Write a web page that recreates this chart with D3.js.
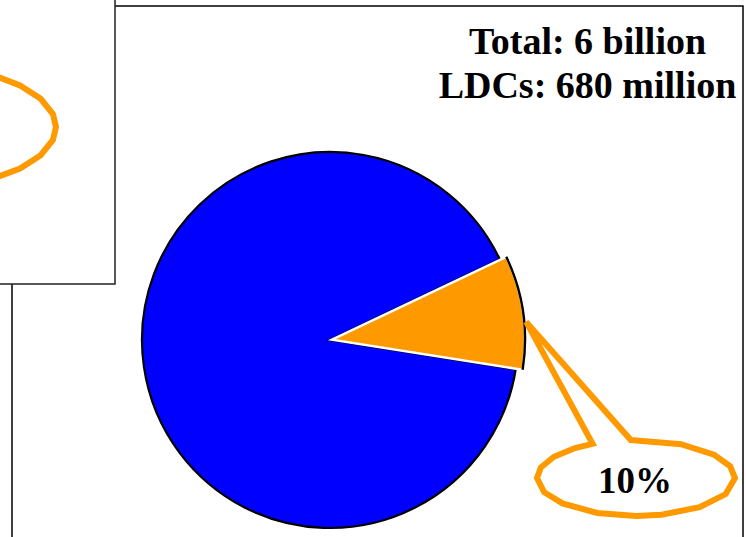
<!DOCTYPE html>
<html>
<head>
<meta charset="utf-8">
<script src="https://cdn.jsdelivr.net/npm/d3@7"></script>
<style>
  html, body { margin: 0; padding: 0; background: #fff; overflow: hidden; }
  svg { display: block; }
</style>
</head>
<body>
<svg id="chart" width="746" height="537"></svg>
<script>
// ---- data ----
const categories = ["Rest of world", "LDCs"];
const shares = [90.45, 9.55];           // percent of world population (as drawn)
const colors = ["#0000FF", "#FF9900"];
const infoLines = ["Total: 6 billion", "LDCs: 680 million"];
const calloutText = "10%";

// ---- layout ----
const W = 746, H = 537;
const svg = d3.select("#chart");
const cx = 330, cy = 340, R = 188;
const explode = 2, Rslice = 193;
const startDeg = 98.95;

// main frame
svg.append("rect")
  .attr("x", 12).attr("y", 6).attr("width", 731).attr("height", 620)
  .attr("fill", "#fff").attr("stroke", "#000").attr("stroke-width", 1.5);

const pie = d3.pie().sort(null)
  .startAngle(startDeg * Math.PI / 180)
  .endAngle(startDeg * Math.PI / 180 + 2 * Math.PI);
const arcs = pie(shares);

const g = svg.append("g").attr("transform", `translate(${cx},${cy})`);

// blue (main) slice
const arcMain = d3.arc().innerRadius(0).outerRadius(R);
g.append("path")
  .attr("d", arcMain(arcs[0]))
  .attr("fill", colors[0])
  .attr("stroke", "#000").attr("stroke-width", 2.2);

// exploded LDC slice
const a1 = arcs[1];
const mid = (a1.startAngle + a1.endAngle) / 2;
const ox = Math.sin(mid) * explode, oy = -Math.cos(mid) * explode;
const gs = g.append("g").attr("transform", `translate(${ox},${oy})`);
const arcSlice = d3.arc().innerRadius(0).outerRadius(Rslice);
gs.append("path")
  .attr("d", arcSlice(a1))
  .attr("fill", colors[1])
  .attr("stroke", "#fff").attr("stroke-width", 2.5)
  .attr("stroke-linejoin", "miter");
const rimPath = d3.path();
rimPath.arc(0, 0, Rslice, a1.startAngle - Math.PI / 2, a1.endAngle - Math.PI / 2);
gs.append("path")
  .attr("d", rimPath.toString())
  .attr("fill", "none")
  .attr("stroke", "#000").attr("stroke-width", 2.4);

// info text
const info = svg.append("g")
  .attr("font-family", "'Liberation Serif', 'Times New Roman', serif")
  .attr("font-weight", "bold").attr("font-size", 38)
  .attr("text-anchor", "middle").attr("fill", "#000");
infoLines.forEach((t, i) => {
  info.append("text").attr("x", 587.5).attr("y", 54 + i * 44).text(t);
});

// callout bubble (polygonal ellipse with tail to slice)
function bubble(ecx, ecy, rx, ry, angles, tip, baseL, baseR) {
  const pts = [];
  const P = t => [ecx + rx * Math.cos(t * Math.PI / 180), ecy + ry * Math.sin(t * Math.PI / 180)];
  if (tip) pts.push(P(baseR));
  angles.forEach(t => pts.push(P(t)));
  if (tip) { pts.push(P(baseL)); pts.push(tip); }
  return pts;
}
const tipAng = mid + 3 * Math.PI / 180;
const tip = [cx + ox + Math.sin(tipAng) * (Rslice + 2), cy + oy - Math.cos(tipAng) * (Rslice + 2)];
const calloutPts = bubble(636, 478, 99, 38,
  [-63, -38, -18, 0, 25, 50, 75, 90, 113, 138, 158, 180, 196, 214, 232],
  tip, 244, -93);
svg.append("path")
  .attr("d", d3.line()(calloutPts) + "Z")
  .attr("fill", "none")
  .attr("stroke", colors[1]).attr("stroke-width", 6)
  .attr("stroke-linejoin", "miter");
svg.append("text")
  .attr("x", 635).attr("y", 493)
  .attr("font-family", "'Liberation Serif', 'Times New Roman', serif")
  .attr("font-weight", "bold").attr("font-size", 37)
  .attr("text-anchor", "middle").attr("fill", "#000")
  .text(calloutText);

// overlapping previous panel at top-left
svg.append("rect")
  .attr("x", -20).attr("y", -20).attr("width", 135).attr("height", 304)
  .attr("fill", "#fff").attr("stroke", "#222").attr("stroke-width", 1.5);
const leftPts = bubble(-84, 127, 140, 62,
  [-150, -125, -100, -75, -55, -42, -27, -12, 0, 12, 27, 42, 57, 78, 102, 128, 152], null);
svg.append("path")
  .attr("d", d3.line()(leftPts) + "Z")
  .attr("fill", "none")
  .attr("stroke", colors[1]).attr("stroke-width", 6)
  .attr("stroke-linejoin", "miter");
</script>
</body>
</html>
